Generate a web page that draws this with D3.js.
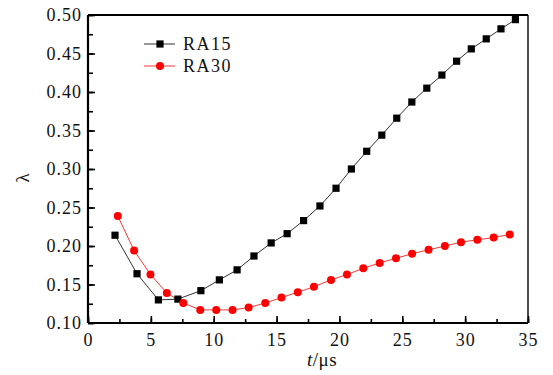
<!DOCTYPE html>
<html>
<head>
<meta charset="utf-8">
<script src="https://cdn.jsdelivr.net/npm/d3@7"></script>
<style>
  html, body { margin: 0; padding: 0; background: #fff; }
</style>
</head>
<body>
<div id="chart"></div>
<script>
(function () {
    'use strict';

    const FONT = '"Liberation Serif", "Times New Roman", Times, serif';

    // RA15 series (black squares)
    const t15 = [2.15, 3.9, 5.6, 7.15, 8.98, 10.45, 11.86, 13.2, 14.57, 15.84, 17.15, 18.45, 19.73,
        20.95, 22.17, 23.37, 24.56, 25.76, 26.95, 28.15, 29.32, 30.49, 31.68, 32.85, 34.0];
    const lam15 = [0.214, 0.164, 0.130, 0.131, 0.142, 0.156, 0.169, 0.187, 0.204, 0.216, 0.233, 0.252, 0.275,
        0.300, 0.323, 0.344, 0.366, 0.387, 0.405, 0.422, 0.440, 0.456, 0.469, 0.482, 0.494];

    // RA30 series (red circles)
    const t30 = [2.37, 3.67, 4.97, 6.27, 7.58, 8.93, 10.2, 11.5, 12.78, 14.1, 15.39, 16.69, 17.97, 19.33,
        20.6, 21.9, 23.2, 24.5, 25.78, 27.09, 28.39, 29.67, 30.97, 32.27, 33.55];
    const lam30 = [0.239, 0.194, 0.163, 0.139, 0.126, 0.117, 0.117, 0.117, 0.120, 0.126, 0.133, 0.140, 0.147, 0.156,
        0.163, 0.171, 0.178, 0.184, 0.190, 0.195, 0.200, 0.205, 0.208, 0.211, 0.215];

    const seriesNames = ['RA15', 'RA30'];
    const xTicks = [0, 5, 10, 15, 20, 25, 30, 35];
    const yTicks = [0.10, 0.15, 0.20, 0.25, 0.30, 0.35, 0.40, 0.45, 0.50];

    const W = 553, H = 375;
    const margin = { top: 15, left: 88 };
    const width = 528 - margin.left;
    const height = 323 - margin.top;

    const svg = d3.select('#chart').append('svg')
        .attr('width', W).attr('height', H)
        .style('font-family', FONT);
    const g = svg.append('g')
        .attr('transform', 'translate(' + margin.left + ',' + margin.top + ')');

    const xScale = d3.scaleLinear().domain([0, 35]).range([0, width]);
    const yScale = d3.scaleLinear().domain([0.10, 0.50]).range([height, 0]);

    // minor ticks
    g.append('g').attr('transform', 'translate(0,' + height + ')')
        .call(d3.axisBottom(xScale).tickValues(d3.range(0, 35.1, 2.5)).tickSize(-4).tickFormat(''))
        .call(a => a.select('.domain').remove())
        .selectAll('line').attr('stroke-width', 1.6);
    g.append('g')
        .call(d3.axisLeft(yScale).tickValues(d3.range(0.10, 0.501, 0.025)).tickSize(-5).tickFormat(''))
        .call(a => a.select('.domain').remove())
        .selectAll('line').attr('stroke-width', 1.6);

    // major ticks + labels
    const xAxis = g.append('g').attr('transform', 'translate(0,' + height + ')')
        .call(d3.axisBottom(xScale).tickValues(xTicks).tickSize(-7).tickPadding(10).tickFormat(d3.format('d')));
    const yAxis = g.append('g')
        .call(d3.axisLeft(yScale).tickValues(yTicks).tickSize(-7).tickPadding(6).tickFormat(d3.format('.2f')));

    [xAxis, yAxis].forEach(function (a) {
        a.attr('font-family', null);
        a.select('.domain').remove();
        a.selectAll('line').attr('stroke-width', 1.6);
        a.selectAll('text')
            .style('font-family', FONT)
            .style('font-size', '18px').style('letter-spacing', '1px')
            .attr('fill', '#111');
    });

    // frame
    g.append('line').attr('x1', 0).attr('x2', width).attr('y1', height).attr('y2', height)
        .attr('stroke', '#000').attr('stroke-width', 2.2);
    g.append('line').attr('x1', 0).attr('x2', 0).attr('y1', 0).attr('y2', height)
        .attr('stroke', '#000').attr('stroke-width', 2.2);
    g.append('line').attr('x1', 0).attr('x2', width).attr('y1', 0).attr('y2', 0)
        .attr('stroke', '#000').attr('stroke-width', 2);
    g.append('line').attr('x1', width).attr('x2', width).attr('y1', 0).attr('y2', height)
        .attr('stroke', '#000').attr('stroke-width', 1.4);

    const line = d3.line().x(d => xScale(d[0])).y(d => yScale(d[1]));
    const d15 = d3.zip(t15, lam15);
    const d30 = d3.zip(t30, lam30);

    g.append('path').datum(d15).attr('d', line)
        .attr('fill', 'none').attr('stroke', '#333').attr('stroke-width', 1);
    g.append('path').datum(d30).attr('d', line)
        .attr('fill', 'none').attr('stroke', '#f03a3a').attr('stroke-width', 1);

    g.selectAll('.sq').data(d15).enter().append('rect').attr('class', 'sq')
        .attr('x', d => xScale(d[0]) - 3.6).attr('y', d => yScale(d[1]) - 3.6)
        .attr('width', 7.2).attr('height', 7.2).attr('fill', '#000');
    g.selectAll('.dot').data(d30).enter().append('circle').attr('class', 'dot')
        .attr('cx', d => xScale(d[0])).attr('cy', d => yScale(d[1]))
        .attr('r', 4).attr('fill', '#ff0000');

    // legend
    const legend = svg.append('g').attr('transform', 'translate(144,44)');
    const items = legend.selectAll('g').data(seriesNames).enter().append('g')
        .attr('transform', (d, i) => 'translate(0,' + i * 22 + ')');
    items.append('line').attr('x1', 0).attr('x2', 31).attr('y1', 0).attr('y2', 0)
        .attr('stroke', (d, i) => i === 0 ? '#333' : '#f03a3a').attr('stroke-width', 1);
    items.filter((d, i) => i === 0).append('rect')
        .attr('x', 12.4).attr('y', -3.6).attr('width', 7.2).attr('height', 7.2).attr('fill', '#000');
    items.filter((d, i) => i === 1).append('circle')
        .attr('cx', 16).attr('cy', 0).attr('r', 4).attr('fill', '#ff0000');
    items.append('text').attr('x', 39).attr('dy', '0.35em')
        .style('font-size', '18px').style('letter-spacing', '1.5px').attr('fill', '#111').text(d => d);

    // axis titles
    svg.append('text')
        .attr('transform', 'translate(22,178) rotate(-90)')
        .attr('text-anchor', 'middle').attr('dy', '0.35em').attr('fill', '#111')
        .style('font-size', '19px').text('λ');
    const xt = svg.append('text').attr('x', 322).attr('y', 366).attr('fill', '#111')
        .attr('text-anchor', 'middle').style('font-size', '19px').style('letter-spacing', '0.5px');
    xt.append('tspan').style('font-style', 'italic').text('t');
    xt.append('tspan').text('/μs');
}());
</script>
</body>
</html>
